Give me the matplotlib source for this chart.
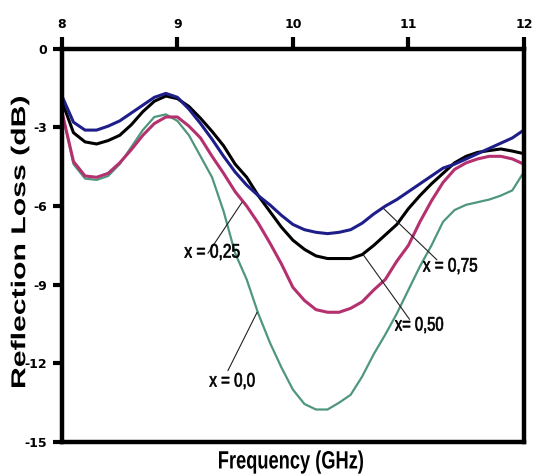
## Reflection loss vs frequency for x = 0.0 .. 0.75

import matplotlib
matplotlib.use("Agg")
from matplotlib import pyplot as plt
from matplotlib.textpath import TextPath
from matplotlib.patches import PathPatch
from matplotlib.font_manager import FontProperties
from matplotlib.transforms import Affine2D, IdentityTransform

plt.rcParams['axes.unicode_minus'] = False

freq = [8.0, 8.1, 8.2, 8.3, 8.4, 8.5, 8.6, 8.7, 8.8, 8.9,
        9.0, 9.1, 9.2, 9.3, 9.4, 9.5, 9.6, 9.7, 9.8, 9.9,
        10.0, 10.1, 10.2, 10.3, 10.4, 10.5, 10.6, 10.7, 10.8, 10.9,
        11.0, 11.1, 11.2, 11.3, 11.4, 11.5, 11.6, 11.7, 11.8, 11.9, 12.0]

rl_075 = [-1.8, -2.8, -3.1, -3.1, -2.95, -2.75, -2.45, -2.15, -1.85, -1.7,
          -1.85, -2.3, -2.85, -3.45, -4.1, -4.7, -5.2, -5.6, -5.95, -6.35,
          -6.7, -6.9, -7.0, -7.05, -7.0, -6.9, -6.65, -6.3, -6.0, -5.75,
          -5.45, -5.15, -4.85, -4.55, -4.4, -4.2, -4.0, -3.8, -3.6, -3.4, -3.1]

rl_050 = [-2.0, -3.2, -3.55, -3.63, -3.5, -3.3, -2.9, -2.4, -2.0, -1.8,
          -1.9, -2.2, -2.65, -3.15, -3.7, -4.4, -4.9, -5.6, -6.2, -6.8,
          -7.3, -7.65, -7.9, -8.0, -8.0, -8.0, -7.85, -7.5, -7.1, -6.7,
          -6.1, -5.6, -5.15, -4.75, -4.35, -4.1, -3.95, -3.88, -3.82, -3.9, -4.0]

rl_025 = [-2.4, -4.3, -4.85, -4.9, -4.75, -4.35, -3.85, -3.3, -2.85, -2.6,
          -2.6, -2.95, -3.4, -4.1, -4.75, -5.45, -6.0, -6.65, -7.4, -8.2,
          -9.1, -9.6, -9.95, -10.05, -10.05, -9.9, -9.65, -9.2, -8.8, -8.1,
          -7.5, -6.6, -5.8, -5.1, -4.6, -4.35, -4.2, -4.1, -4.1, -4.2, -4.4]

rl_000 = [-2.4, -4.4, -4.95, -5.0, -4.85, -4.4, -3.75, -3.1, -2.6, -2.5,
          -2.75, -3.3, -4.1, -4.9, -6.2, -7.8, -8.8, -10.1, -11.2, -12.15,
          -13.0, -13.55, -13.76, -13.76, -13.5, -13.2, -12.5, -11.65, -10.9, -10.1,
          -9.2, -8.3, -7.5, -6.6, -6.15, -5.95, -5.85, -5.75, -5.6, -5.4, -4.7]

xticks = [8, 9, 10, 11, 12]
yticks = [0, -3, -6, -9, -12, -15]

W, H = 534, 476
fig = plt.figure(figsize=(W / 100, H / 100), dpi=100)
ax = fig.add_axes([0.116, 0.0714, 0.865, 0.826])


#幅を指定して文字を描く (元画像の文字は縦横比が崩れているため)
def put_text(s, xpx, ypx, size, width, rot=0, bold=False, stroke=0.0):
    fp = FontProperties(family='Liberation Sans', weight='bold' if bold else 'normal')
    tp = TextPath((0, 0), s, size=size, prop=fp)
    ext = tp.get_extents()
    sx = width / ext.width
    tr = (Affine2D().translate(-(ext.x0 + ext.x1) / 2, -(ext.y0 + ext.y1) / 2)
          .scale(sx, 1).rotate_deg(rot).translate(xpx, H - ypx))
    fig.add_artist(PathPatch(tr.transform_path(tp), transform=IdentityTransform(),
                             fc='black', ec='black' if stroke else 'none', lw=stroke))


ax.plot(freq, rl_000, color='#4f977c', lw=1.6)
ax.plot(freq, rl_025, color='#b4306e', lw=2.2)
ax.plot(freq, rl_050, color='black', lw=2.2)
ax.plot(freq, rl_075, color='#1e1e8a', lw=2.2)

ax.set_xlim(8, 12)
ax.set_ylim(-15, 0)
ax.set_xticks(xticks)
ax.set_yticks(yticks)
ax.set_xticklabels([str(t) for t in xticks])
ax.set_yticklabels([str(t) for t in yticks])

ax.xaxis.tick_top()
ax.tick_params(axis='x', top=True, bottom=False, direction='out', length=8.5, width=3,
               pad=4, labelsize=9)
ax.tick_params(axis='y', left=True, right=False, direction='out', length=6.5, width=3,
               pad=4, labelsize=9)
for lab in ax.get_xticklabels() + ax.get_yticklabels():
    lab.set_fontweight('bold')
for sp in ax.spines.values():
    sp.set_linewidth(3.2)

#引き出し線
arr = dict(arrowstyle='-', lw=0.8, color='#222222', shrinkA=0, shrinkB=0)
ax.annotate('', xy=(9.56, -5.85), xytext=(9.264, -7.8), arrowprops=arr)
ax.annotate('', xy=(9.69, -10.05), xytext=(9.437, -12.28), arrowprops=arr)
ax.annotate('', xy=(10.78, -6.07), xytext=(11.247, -8.05), arrowprops=arr)
ax.annotate('', xy=(10.61, -7.86), xytext=(11.01, -10.32), arrowprops=arr)

put_text('x = 0,25', 212, 252, 19.5, 55, stroke=0.5)
put_text('x = 0,0', 232, 381, 19.5, 45, stroke=0.5)
put_text('x = 0,75', 450, 266, 19.5, 54, stroke=0.5)
put_text('x= 0,50', 419, 325, 19.5, 48, stroke=0.5)

put_text('Reflection Loss (dB)', 20, 242, 20, 290, rot=90, bold=True)
put_text('Frequency (GHz)', 291, 462, 25, 144, bold=True)

plt.savefig('out.png', dpi=100)
